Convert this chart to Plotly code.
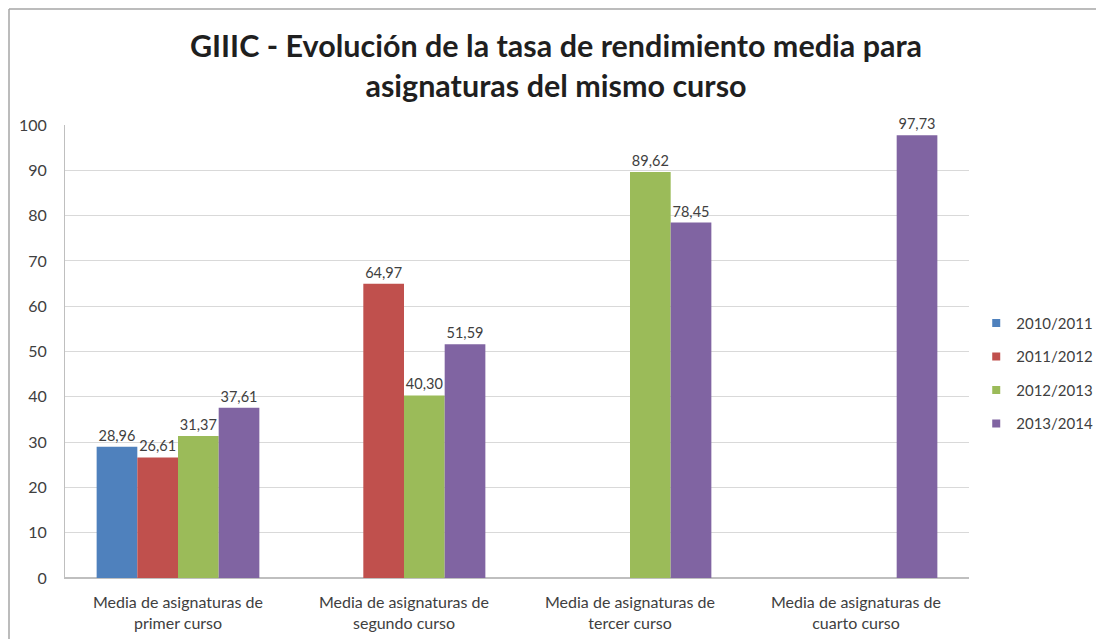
import plotly.graph_objects as go

# Categories and series values (None = no bar in that slot)
categories = [
    "Media de asignaturas de<br>primer curso",
    "Media de asignaturas de<br>segundo curso",
    "Media de asignaturas de<br>tercer curso",
    "Media de asignaturas de<br>cuarto curso",
]
years = ["2010/2011", "2011/2012", "2012/2013", "2013/2014"]
v_2010 = [28.96, None, None, None]
v_2011 = [26.61, 64.97, None, None]
v_2012 = [31.37, 40.30, 89.62, None]
v_2013 = [37.61, 51.59, 78.45, 97.73]
series = [v_2010, v_2011, v_2012, v_2013]
y_ticks = list(range(0, 101, 10))

COLORS = ["#4F81BD", "#C0504D", "#9BBB59", "#8064A2"]
FONT = "Lato, 'Open Sans', sans-serif"

fig = go.Figure()
for i, (name, vals) in enumerate(zip(years, series)):
    fig.add_trace(go.Bar(
        x=categories,
        y=vals,
        name=name,
        showlegend=False,
        marker=dict(color=COLORS[i], line=dict(width=0)),
        texttemplate="%{y:.2f}",
        textposition="outside",
        textfont=dict(size=14.5, color="#404040", family=FONT),
        cliponaxis=False,
    ))

# small square legend keys, like the Excel legend
for i, name in enumerate(years):
    fig.add_trace(go.Scatter(
        x=[None], y=[None], mode="markers", name=name, legendgroup=name,
        marker=dict(symbol="square", size=8, color=COLORS[i]),
    ))

fig.update_layout(
    width=1096, height=631,
    separators=",.",
    barmode="group",
    bargap=0.28,
    bargroupgap=0,
    paper_bgcolor="white",
    plot_bgcolor="white",
    font=dict(family=FONT, color="#404040"),
    title=dict(
        text="<b>GIIIC - Evolución de la tasa de rendimiento media para<br>asignaturas del mismo curso</b>",
        x=0.5, xanchor="center", y=0.922, yanchor="middle",
        font=dict(size=30.5, color="#1f1f1f", family=FONT),
    ),
    margin=dict(l=57, r=135, t=117, b=61, autoexpand=False),
    legend=dict(
        x=1.008, xanchor="left", y=0.452, yanchor="middle",
        font=dict(size=15, color="#404040"),
        tracegroupgap=11,
        itemwidth=30,
    ),
    xaxis=dict(
        tickfont=dict(size=16, color="#404040"),
        showline=True, linecolor="#bfbfbf",
        ticks="", showgrid=False,
        ticklabelstandoff=10,
    ),
    yaxis=dict(
        range=[0, 100],
        tickvals=y_ticks,
        tickfont=dict(size=16, color="#404040"),
        showgrid=True, gridcolor="#d9d9d9", gridwidth=1,
        showline=True, linecolor="#bfbfbf",
        zeroline=True, zerolinecolor="#bfbfbf",
        ticks="",
        ticklabelstandoff=14,
    ),
    shapes=[
        # outer chart-area border (left and top edges visible in the reference)
        dict(type="line", xref="paper", yref="paper",
             x0=-56 / 904, x1=-56 / 904, y0=-0.2, y1=1 + 116 / 453,
             line=dict(color="#a6a6a6", width=1.5)),
        dict(type="line", xref="paper", yref="paper",
             x0=-56 / 904, x1=1.2, y0=1 + 116 / 453, y1=1 + 116 / 453,
             line=dict(color="#a6a6a6", width=1.5)),
    ],
)

fig.write_html("out.html")
